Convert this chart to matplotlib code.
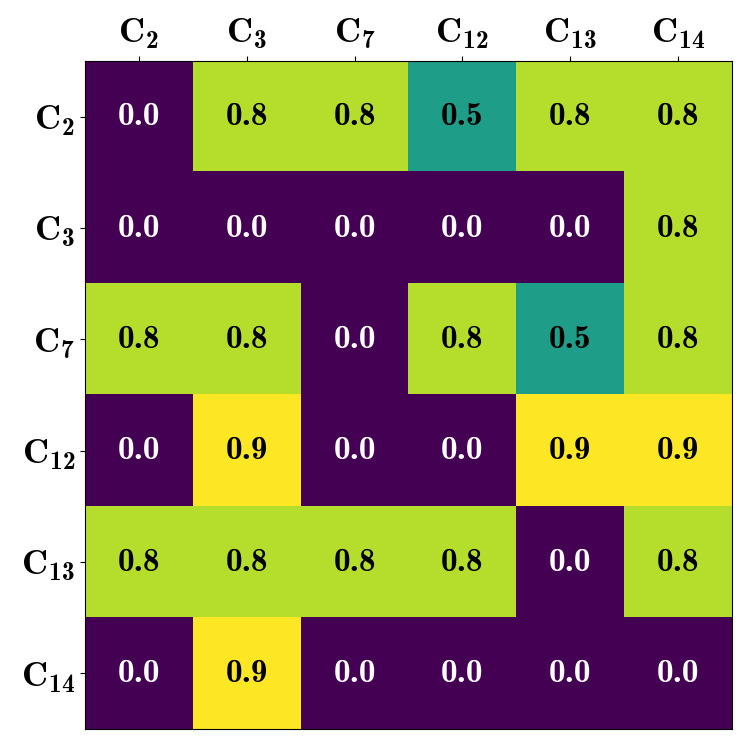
import numpy as np
import matplotlib
matplotlib.use("Agg")
import matplotlib.pyplot as plt

# Computer Modern bold everywhere (mpl ships cmb10)
plt.rcParams['mathtext.fontset'] = 'custom'
plt.rcParams['mathtext.rm'] = 'cmb10'
plt.rcParams['mathtext.it'] = 'cmb10'
plt.rcParams['mathtext.bf'] = 'cmb10'

labels = ["2", "3", "7", "12", "13", "14"]
values = np.array([
    [0.0, 0.8, 0.8, 0.5, 0.8, 0.8],
    [0.0, 0.0, 0.0, 0.0, 0.0, 0.8],
    [0.8, 0.8, 0.0, 0.8, 0.5, 0.8],
    [0.0, 0.9, 0.0, 0.0, 0.9, 0.9],
    [0.8, 0.8, 0.8, 0.8, 0.0, 0.8],
    [0.0, 0.9, 0.0, 0.0, 0.0, 0.0],
])

fig = plt.figure(figsize=(7.46, 7.44), dpi=100)
ax = fig.add_axes([0.114, 0.020, 0.867, 0.898])
ax.imshow(values, cmap="viridis", vmin=0, vmax=0.9, aspect="auto")

tick_labels = [r"$\mathrm{C}_{\mathrm{%s}}$" % s for s in labels]
ax.set_xticks(range(len(labels)))
ax.set_yticks(range(len(labels)))
ax.set_xticklabels(tick_labels, fontsize=26)
ax.set_yticklabels(tick_labels, fontsize=26)
ax.xaxis.tick_top()

for i in range(values.shape[0]):
    for j in range(values.shape[1]):
        v = values[i, j]
        color = "white" if v < 0.3 else "black"
        ax.text(j, i, "%.1f" % v, ha="center", va="center",
                color=color, fontsize=24, fontfamily="cmb10")

fig.savefig("out.png", dpi=100)
